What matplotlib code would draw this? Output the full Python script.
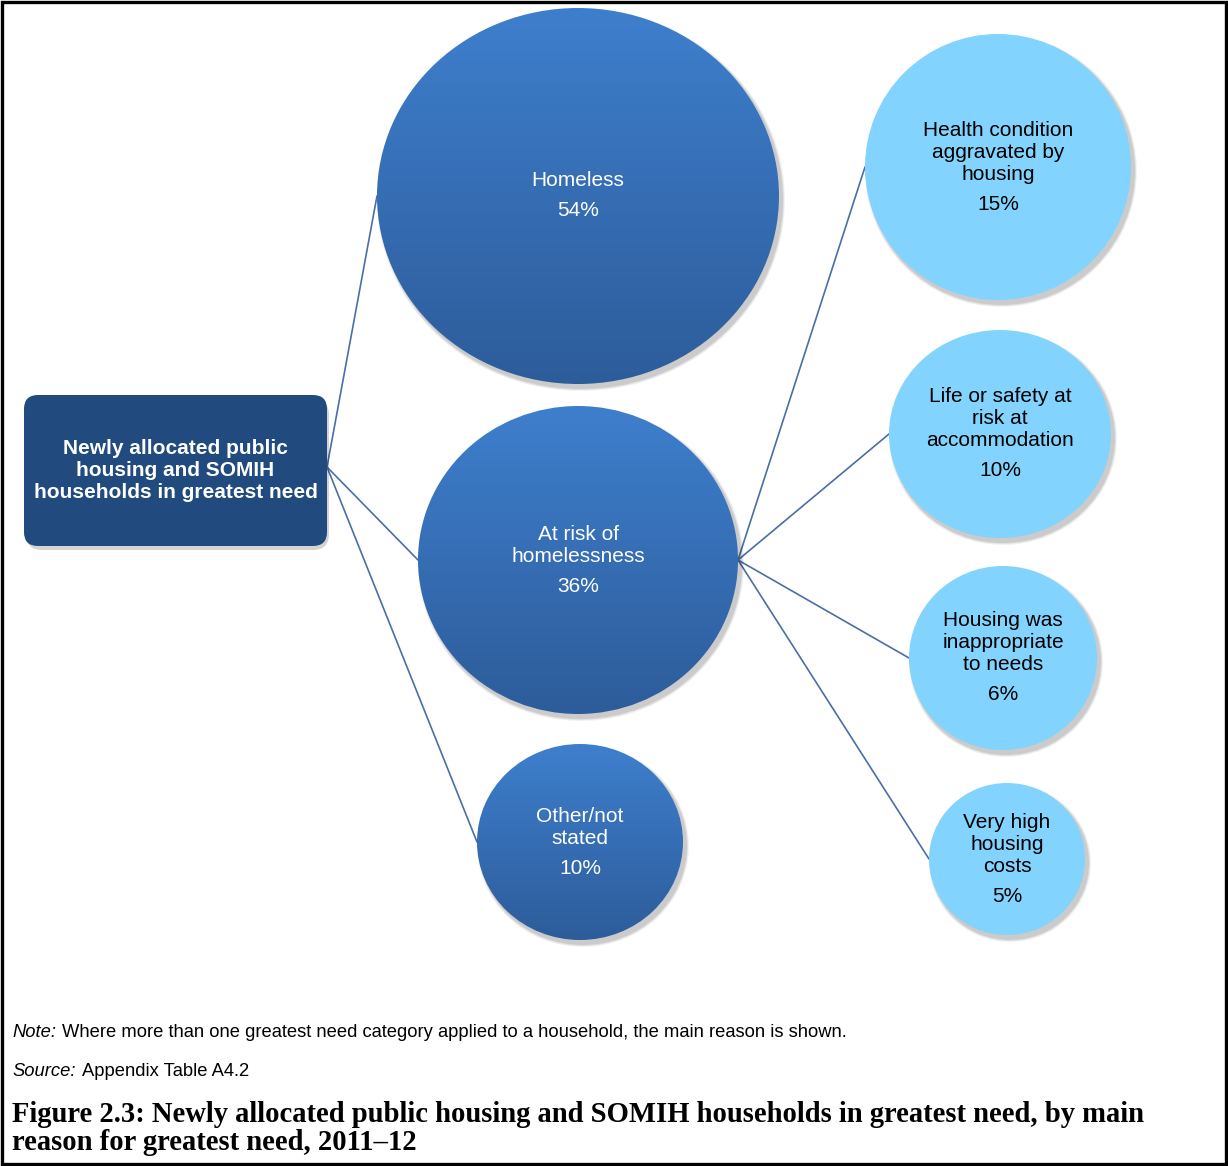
import matplotlib
matplotlib.use("Agg")
import matplotlib.pyplot as plt
import numpy as np
from matplotlib.patches import Ellipse, FancyBboxPatch, Rectangle
from matplotlib.colors import LinearSegmentedColormap

# ---------------- data ----------------
root_label = ["Newly allocated public", "housing and SOMIH", "households in greatest need"]

main_labels = [["Homeless"], ["At risk of", "homelessness"], ["Other/not", "stated"]]
main_values = [54, 36, 10]

sub_labels = [["Health condition", "aggravated by", "housing"],
              ["Life or safety at", "risk at", "accommodation"],
              ["Housing was", "inappropriate", "to needs"],
              ["Very high", "housing", "costs"]]
sub_values = [15, 10, 6, 5]

note_lead = "Note:"
note_text = "Where more than one greatest need category applied to a household, the main reason is shown."
source_lead = "Source:"
source_text = "Appendix Table A4.2"
caption_lines = ["Figure 2.3: Newly allocated public housing and SOMIH households in greatest need, by main",
                 "reason for greatest need, 2011\u201312"]

# ---------------- layout (pixels) ----------------
W, H = 1228, 1166
root_box = (24, 395, 303, 151)           # x, y, w, h
main_pos = [(578, 196, 201, 188), (578, 560, 160, 154), (580, 842, 103, 98)]
sub_pos = [(998, 167, 133, 133), (1000, 434, 111, 104), (1003, 658, 94, 92), (1007, 859, 78, 76)]

dark_top, dark_bot = "#3E7FCD", "#2D5C9A"
light = "#82D3FE"
root_col = "#214A7E"
line_col = "#4A6EA6"

fig = plt.figure(figsize=(W / 100, H / 100), dpi=100)
ax = fig.add_axes([0, 0, 1, 1])
ax.set_xlim(0, W)
ax.set_ylim(H, 0)
ax.axis("off")

FONT = ["Liberation Sans", "DejaVu Sans"]
lbl_size = 15
line_step = 22
pct_gap = 30

def shadow_ellipse(cx, cy, rx, ry):
    for k, a in zip([6, 4, 2], [0.05, 0.07, 0.09]):
        ax.add_patch(Ellipse((cx + 3, cy + 4), 2 * rx + k, 2 * ry + k,
                             facecolor="black", edgecolor="none", alpha=a, zorder=2))

def draw_labels(cx, cy, lines, pct, color):
    n = len(lines)
    total = (n - 1) * line_step + pct_gap
    y0 = cy - total / 2
    for i, t in enumerate(lines):
        ax.text(cx, y0 + i * line_step, t, ha="center", va="center", fontsize=lbl_size,
                color=color, family=FONT, zorder=6)
    ax.text(cx, y0 + (n - 1) * line_step + pct_gap, f"{pct}%", ha="center", va="center",
            fontsize=lbl_size, color=color, family=FONT, zorder=6)

# connector lines
rx0 = root_box[0] + root_box[2]
ry0 = 467
for (cx, cy, rx, ry) in main_pos:
    ax.plot([rx0, cx - rx], [ry0, cy], color=line_col, lw=1.2, zorder=1, solid_capstyle="round")
hub_x = main_pos[1][0] + main_pos[1][2]
hub_y = main_pos[1][1]
for (cx, cy, rx, ry) in sub_pos:
    ax.plot([hub_x, cx - rx], [hub_y, cy], color=line_col, lw=1.2, zorder=1, solid_capstyle="round")

# root box
bx, by, bw, bh = root_box
for k, a in zip([4, 2], [0.07, 0.1]):
    ax.add_patch(FancyBboxPatch((bx + 2, by + 4), bw, bh,
                                boxstyle="round,pad=0,rounding_size=16",
                                facecolor="black", edgecolor="none", alpha=a, zorder=2))
ax.add_patch(FancyBboxPatch((bx, by), bw, bh, boxstyle="round,pad=0,rounding_size=14",
                            facecolor=root_col, edgecolor="none", zorder=3))
for i, t in enumerate(root_label):
    ax.text(bx + bw / 2, 449 + i * 21.5, t, ha="center", va="center", fontsize=15,
            fontweight="bold", color="white", family=FONT, zorder=6)

# main circles with gradient
cmap = LinearSegmentedColormap.from_list("g", [dark_top, dark_bot])
grad = np.linspace(0, 1, 256).reshape(-1, 1)
for (cx, cy, rx, ry), lines, v in zip(main_pos, main_labels, main_values):
    shadow_ellipse(cx, cy, rx, ry)
    e = Ellipse((cx, cy), 2 * rx, 2 * ry, facecolor="none", edgecolor="none", zorder=3)
    ax.add_patch(e)
    im = ax.imshow(grad, cmap=cmap, extent=[cx - rx, cx + rx, cy + ry, cy - ry],
                   origin="upper", aspect="auto", zorder=3, interpolation="bilinear")
    im.set_clip_path(e)
    draw_labels(cx, cy, lines, v, "white")

# sub circles
for (cx, cy, rx, ry), lines, v in zip(sub_pos, sub_labels, sub_values):
    shadow_ellipse(cx, cy, rx, ry)
    ax.add_patch(Ellipse((cx, cy), 2 * rx, 2 * ry, facecolor=light, edgecolor="none", zorder=3))
    draw_labels(cx, cy, lines, v, "black")

ax.set_xlim(0, W)
ax.set_ylim(H, 0)

# notes
fig.canvas.draw()
r = fig.canvas.get_renderer()
inv = ax.transData.inverted()
note_size = 13.2
def lead_text(y, lead, body):
    t1 = ax.text(12, y, lead, ha="left", va="baseline", fontsize=note_size, style="italic",
                 family=FONT, color="black")
    bb = t1.get_window_extent(renderer=r)
    x1 = inv.transform((bb.x1, bb.y0))[0]
    ax.text(x1 + 6, y, body, ha="left", va="baseline", fontsize=note_size, family=FONT,
            color="black")
lead_text(1037, note_lead, note_text)
lead_text(1076, source_lead, source_text)

# caption
cap_fam = ["Liberation Serif", "DejaVu Serif"]
cap = ax.text(12, 1114, caption_lines[0], ha="left", va="center", fontsize=10,
              fontweight="bold", family=cap_fam, color="black")
bb = cap.get_window_extent(renderer=r)
size = 10 * 1136 / bb.width
cap.set_fontsize(size)
ax.text(12, 1142, caption_lines[1], ha="left", va="center", fontsize=size,
        fontweight="bold", family=cap_fam, color="black")

# border
ax.add_patch(Rectangle((1.5, 1.5), W - 4, H - 4, facecolor="none", edgecolor="black",
                       lw=2.4, zorder=10))

fig.savefig("out.png", dpi=100)
